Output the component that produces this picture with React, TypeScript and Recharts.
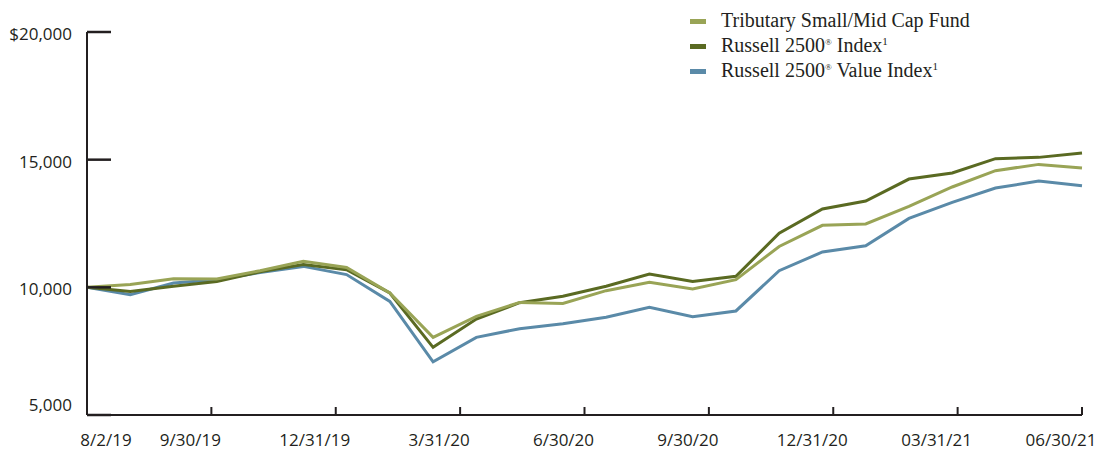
import React from 'react';
import { LineChart, Line, XAxis, YAxis } from 'recharts';

document.body.style.margin = '0';

const dates = [
  '8/2/19', '8/31/19', '9/30/19', '10/31/19', '11/30/19', '12/31/19',
  '1/31/20', '2/29/20', '3/31/20', '4/30/20', '5/31/20', '6/30/20',
  '7/31/20', '8/31/20', '9/30/20', '10/31/20', '11/30/20', '12/31/20',
  '1/31/21', '2/28/21', '3/31/21', '4/30/21', '5/31/21', '6/30/21',
];

const fund = [
  10000, 10110, 10340, 10330, 10650, 11020, 10780, 9780, 8040, 8860, 9410, 9370,
  9870, 10200, 9940, 10300, 11600, 12430, 12480, 13170, 13930, 14570, 14815, 14670,
];
const russell2500 = [
  10000, 9840, 10040, 10230, 10610, 10890, 10690, 9780, 7650, 8760, 9400, 9650,
  10040, 10520, 10230, 10430, 12120, 13070, 13380, 14240, 14480, 15040, 15090, 15260,
];
const russell2500Value = [
  10000, 9710, 10170, 10300, 10580, 10820, 10500, 9450, 7080, 8040, 8380, 8570,
  8830, 9220, 8850, 9075, 10650, 11385, 11630, 12700, 13330, 13890, 14160, 13980,
];

const xTickLabels = ['8/2/19', '9/30/19', '12/31/19', '3/31/20', '6/30/20', '9/30/20', '12/31/20', '03/31/21', '06/30/21'];
const yTicks = [5000, 10000, 15000, 20000];

const data = dates.map((d, i) => ({
  i,
  date: d,
  fund: fund[i],
  r2500: russell2500[i],
  r2500v: russell2500Value[i],
}));

const last = dates.length - 1;
const xTicks = xTickLabels.map((_, k) => (k * last) / (xTickLabels.length - 1));

const AXIS = '#231f20';
const FONT = '"Open Sans", sans-serif';

const series = [
  { key: 'fund', name: 'Tributary Small/Mid Cap Fund', color: '#99a456' },
  { key: 'r2500', name: 'Russell 2500', color: '#5a6a22', sup: true },
  { key: 'r2500v', name: 'Russell 2500', color: '#5a8aa8', sup: true, value: true },
];

const YTick = (props: any) => {
  const { x, y, payload } = props;
  const v = payload.value;
  const label = v === 20000 ? '$20,000' : v.toLocaleString('en-US');
  return (
    <g>
      <line x1={x} y1={y} x2={x + 24} y2={y} stroke={AXIS} strokeWidth={2.5} />
      <text x={x - 15} y={v === 5000 ? y - 4 : y + 8} textAnchor="end" fill={AXIS} fontFamily={FONT} fontSize={17}>
        {label}
      </text>
    </g>
  );
};

const XTick = (props: any) => {
  const { x, y, index } = props;
  return (
    <g>
      <line x1={x} y1={y} x2={x} y2={y - 8} stroke={AXIS} strokeWidth={2} />
      <text x={index === 0 ? x + 19 : x - 21} y={y + 31} textAnchor="middle" fill={AXIS} fontFamily={FONT} fontSize={17}>
        {xTickLabels[index]}
      </text>
    </g>
  );
};

// legend drawn as an overlay so it doesn't eat into the plot height
const LegendBox = () => (
  <div style={{ position: 'absolute', left: 690, top: 8, fontFamily: '"Liberation Serif", serif', fontSize: 20, color: AXIS }}>
    {series.map((s) => (
      <div key={s.key} style={{ position: 'relative', height: 25, lineHeight: '25px', paddingLeft: 31, whiteSpace: 'nowrap' }}>
        <span style={{ position: 'absolute', left: 0, top: 11, width: 16, height: 5, background: s.color }} />
        {s.sup ? (
          <>
            Russell 2500<sup style={{ fontSize: 9, verticalAlign: 'top', lineHeight: '18px' }}>®</sup> {s.value ? 'Value ' : ''}Index
            <sup style={{ fontSize: 11, verticalAlign: 'top', lineHeight: '16px' }}>1</sup>
          </>
        ) : (
          s.name
        )}
      </div>
    ))}
  </div>
);

export default function App() {
  return (
    <div style={{ position: 'relative', width: 1096, height: 450, background: '#fff' }}>
      <LineChart width={1096} height={450} data={data} margin={{ top: 32, right: 14, bottom: 0, left: 0 }}>
        <XAxis
          dataKey="i"
          type="number"
          domain={[0, last]}
          ticks={xTicks}
          interval={0}
          height={35}
          tickSize={0}
          tickMargin={0}
          axisLine={{ stroke: AXIS, strokeWidth: 2 }}
          tickLine={false}
          tick={<XTick />}
        />
        <YAxis
          domain={[5000, 20000]}
          ticks={yTicks}
          width={87}
          tickSize={0}
          tickMargin={0}
          axisLine={{ stroke: AXIS, strokeWidth: 2 }}
          tickLine={false}
          tick={<YTick />}
          allowDataOverflow
        />
        <Line type="linear" dataKey="r2500v" stroke="#5a8aa8" strokeWidth={3} dot={false} isAnimationActive={false} />
        <Line type="linear" dataKey="r2500" stroke="#5a6a22" strokeWidth={3} dot={false} isAnimationActive={false} />
        <Line type="linear" dataKey="fund" stroke="#99a456" strokeWidth={3} dot={false} isAnimationActive={false} />
      </LineChart>
      <LegendBox />
    </div>
  );
}
